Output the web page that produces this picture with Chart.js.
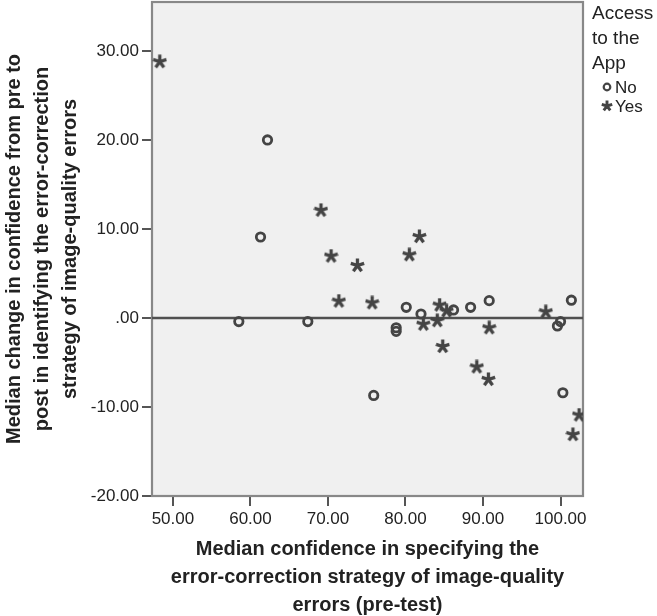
<!DOCTYPE html>
<html>
<head>
<meta charset="utf-8">
<script src="https://cdn.jsdelivr.net/npm/chart.js@4.4.1/dist/chart.umd.min.js"></script>
<style>
  body { margin: 0; background: #fff; }
  #wrap { width: 657px; height: 616px; position: relative; }
</style>
</head>
<body>
<div id="wrap"><canvas id="chart"></canvas></div>
<script>
// Access to the App = No
const noX = [62.2, 61.3, 58.5, 67.4, 80.1, 82.0, 86.2, 88.4, 90.8, 78.8, 78.8, 101.4, 100.0, 99.6, 75.9, 100.3];
const noY = [20.0, 9.1, -0.4, -0.4, 1.2, 0.45, 0.9, 1.2, 1.95, -1.1, -1.5, 2.0, -0.4, -0.9, -8.7, -8.4];
// Access to the App = Yes
const yesX = [48.3, 69.1, 70.4, 73.8, 80.5, 81.8, 71.4, 75.7, 84.4, 85.3, 82.3, 84.1, 90.8, 84.8, 89.2, 90.7, 98.1, 102.4, 101.6];
const yesY = [28.8, 12.1, 6.95, 5.9, 7.1, 9.15, 1.9, 1.7, 1.45, 0.8, -0.7, -0.3, -1.1, -3.2, -5.5, -6.9, 0.7, -10.9, -13.1];

const xTicks = [50, 60, 70, 80, 90, 100];
const yTicks = [-20, -10, 0, 10, 20, 30];
const xRange = [47.3, 102.9];
const yRange = [-20, 35.5];
const refY = 0;

const legendTitle = ['Access', 'to the', 'App'];
const groupNames = ['No', 'Yes'];

const ink = '#444';
const fontFam = '"Liberation Sans", Arial, sans-serif';

function makeStar(size, lw) {
  const c = document.createElement('canvas');
  c.width = size; c.height = size;
  const g = c.getContext('2d');
  const r = size / 2;
  g.strokeStyle = ink;
  g.lineWidth = lw;
  g.beginPath();
  for (let i = 0; i < 5; i++) {
    const a = -Math.PI / 2 + i * 2 * Math.PI / 5;
    g.moveTo(r, r);
    g.lineTo(r + Math.cos(a) * (r - 0.5), r + Math.sin(a) * (r - 0.5));
  }
  g.stroke();
  return c;
}
const starImg = makeStar(15, 3.3);
const starSmall = makeStar(12, 2.9);

const zip = (xs, ys) => xs.map((x, i) => ({x: x, y: ys[i]}));

const plotFrame = {
  id: 'plotFrame',
  beforeDraw(chart) {
    const {ctx, chartArea: a} = chart;
    ctx.save();
    ctx.fillStyle = '#f0f0f0';
    ctx.fillRect(a.left, a.top, a.right - a.left, a.bottom - a.top);
    ctx.restore();
  },
  beforeDatasetsDraw(chart) {
    const {ctx, chartArea: a} = chart;
    ctx.save();
    ctx.strokeStyle = '#888';
    ctx.lineWidth = 2.2;
    ctx.strokeRect(a.left, a.top, a.right - a.left, a.bottom - a.top);
    ctx.restore();
  }
};

const sideLegend = {
  id: 'sideLegend',
  afterDraw(chart) {
    const ctx = chart.ctx;
    const x0 = chart.chartArea.right + 9;
    ctx.save();
    ctx.fillStyle = '#222';
    ctx.textBaseline = 'middle';
    ctx.textAlign = 'left';
    ctx.font = '19px ' + fontFam;
    legendTitle.forEach((t, i) => ctx.fillText(t, x0, 14 + i * 25));
    ctx.font = '17px ' + fontFam;
    // No
    ctx.strokeStyle = ink;
    ctx.lineWidth = 2.2;
    ctx.beginPath();
    ctx.arc(x0 + 15, 87, 3.3, 0, Math.PI * 2);
    ctx.stroke();
    ctx.fillText(groupNames[0], x0 + 23, 88);
    // Yes
    ctx.drawImage(starSmall, x0 + 15 - 6, 106 - 6);
    ctx.fillText(groupNames[1], x0 + 23, 107);
    ctx.restore();
  }
};

new Chart(document.getElementById('chart'), {
  type: 'scatter',
  data: {
    datasets: [
      {
        label: groupNames[0],
        data: zip(noX, noY),
        pointStyle: 'circle',
        pointRadius: 4.2,
        borderWidth: 2.8,
        borderColor: ink,
        backgroundColor: 'rgba(0,0,0,0)',
        order: 1
      },
      {
        label: groupNames[1],
        data: zip(yesX, yesY),
        pointStyle: starImg,
        order: 0
      },
      {
        type: 'line',
        label: 'ref',
        data: [{x: xRange[0], y: refY}, {x: xRange[1], y: refY}],
        borderColor: '#505050',
        borderWidth: 2.4,
        pointRadius: 0,
        order: 2
      }
    ]
  },
  options: {
    responsive: true,
    maintainAspectRatio: false,
    animation: false,
    layout: { autoPadding: false, padding: {top: 2, right: 74, bottom: 0, left: 0} },
    plugins: {
      legend: { display: false },
      tooltip: { enabled: false }
    },
    scales: {
      x: {
        type: 'linear',
        min: xRange[0],
        max: xRange[1],
        afterBuildTicks: s => { s.ticks = xTicks.map(v => ({value: v})); },
        afterFit: s => { s.height = 120; s.paddingLeft = 0; s.paddingRight = 0; },
        border: { display: false },
        grid: { drawOnChartArea: false, drawTicks: true, tickLength: 10, color: '#555', lineWidth: 2 },
        ticks: {
          color: '#222',
          padding: 3,
          font: { family: fontFam, size: 17 },
          callback: v => v.toFixed(2)
        },
        title: {
          display: true,
          text: ['Median confidence in specifying the', 'error-correction strategy of image-quality', 'errors (pre-test)'],
          color: '#222',
          font: { family: fontFam, size: 20, weight: 'bold', lineHeight: 1.4 },
          padding: {top: 0, bottom: -3}
        }
      },
      y: {
        type: 'linear',
        min: yRange[0],
        max: yRange[1],
        afterBuildTicks: s => { s.ticks = yTicks.map(v => ({value: v})); },
        afterFit: s => { s.width = 152; s.paddingTop = 0; s.paddingBottom = 0; },
        border: { display: false },
        grid: { drawOnChartArea: false, drawTicks: true, tickLength: 10, color: '#555', lineWidth: 2 },
        ticks: {
          color: '#222',
          padding: 3,
          font: { family: fontFam, size: 17 },
          callback: v => v === 0 ? '.00' : v.toFixed(2)
        },
        title: {
          display: true,
          text: ['Median change in confidence from pre to', 'post in identifying the error-correction', 'strategy of image-quality errors'],
          color: '#222',
          font: { family: fontFam, size: 20, weight: 'bold', lineHeight: 1.4 },
          padding: {top: 0, bottom: 0}
        }
      }
    }
  },
  plugins: [plotFrame, sideLegend]
});
</script>
</body>
</html>
